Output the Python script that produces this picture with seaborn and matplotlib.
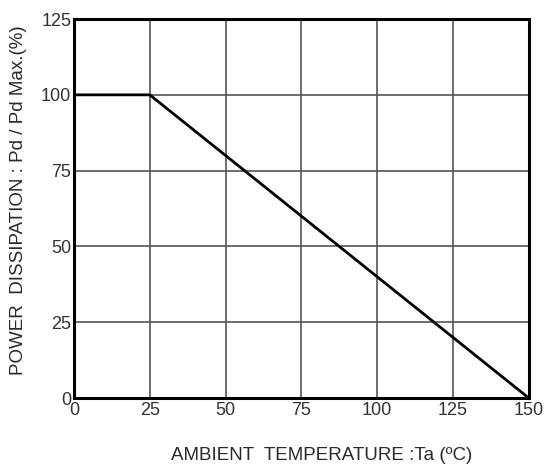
import matplotlib
matplotlib.use("Agg")
import matplotlib.pyplot as plt
import seaborn as sns
import pandas as pd

temperature = [0, 25, 150]
power_pct = [100, 100, 0]
x_ticks = [0, 25, 50, 75, 100, 125, 150]
y_ticks = [0, 25, 50, 75, 100, 125]

sns.set_style("white")
plt.rcParams['font.family'] = ['Liberation Sans', 'DejaVu Sans']

df = pd.DataFrame({"Ta": temperature, "Pd": power_pct})

fig = plt.figure(figsize=(5.44, 4.65), dpi=100)
ax = fig.add_axes([0.136, 0.144, 0.836, 0.815])

sns.lineplot(data=df, x="Ta", y="Pd", ax=ax, color="black", linewidth=2.0, zorder=3)

ax.set_xlim(0, 150)
ax.set_ylim(0, 125)
ax.set_xticks(x_ticks)
ax.set_yticks(y_ticks)
ax.grid(True, color="#555555", linewidth=1.2)
ax.set_axisbelow(True)
for s in ax.spines.values():
    s.set_color("black")
    s.set_linewidth(2.2)
    s.set_visible(True)

ax.tick_params(axis="both", length=0, labelsize=13, colors="#333333")
ax.tick_params(axis="x", pad=3)
ax.tick_params(axis="y", pad=2)

ax.set_xlabel("AMBIENT  TEMPERATURE :Ta (ºC)", fontsize=13.5, color="#2a2a2a",
              labelpad=20, x=0.545)
ax.set_ylabel("POWER  DISSIPATION : Pd / Pd Max.(%)", fontsize=13.5, color="#2a2a2a",
              labelpad=10, y=0.522)

fig.savefig("out.png", dpi=100)
